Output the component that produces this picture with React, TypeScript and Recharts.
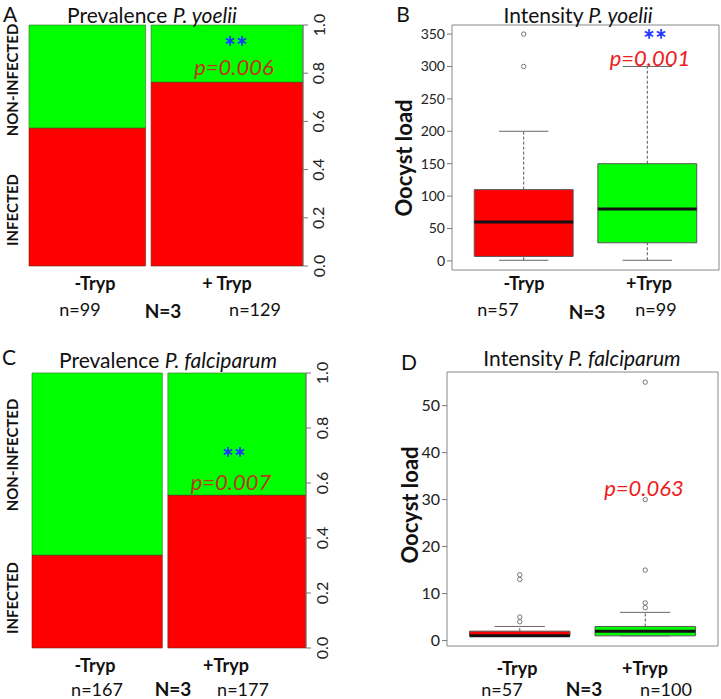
import React from 'react';
import { ComposedChart, XAxis, YAxis, ReferenceArea, ReferenceLine, Scatter } from 'recharts';

const FONT = 'Lato, "Open Sans", "DejaVu Sans", sans-serif';

// ---------- Prevalence (mosaic) data ----------
const prevGroups = ['-Tryp', '+Tryp'];
const yoeliiPrevN = [99, 129];
const yoeliiInfected = [0.573, 0.763];
const falcPrevN = [167, 177];
const falcInfected = [0.338, 0.556];
const propTicks = [0, 0.2, 0.4, 0.6, 0.8, 1.0];

// ---------- Intensity P. yoelii (box plot) ----------
const boxGroups = ['-Tryp', '+Tryp'];
const yoeliiLow = [1, 1];
const yoeliiQ1 = [7, 28];
const yoeliiMed = [60, 80];
const yoeliiQ3 = [110, 150];
const yoeliiHigh = [200, 300];
const yoeliiOutMinus = [300, 350];
const yoeliiOutPlus: number[] = [];
const yoeliiTicks = [0, 50, 100, 150, 200, 250, 300, 350];

// ---------- Intensity P. falciparum (box plot) ----------
const falcLow = [1, 1];
const falcQ1 = [1, 1];
const falcMed = [1, 2];
const falcQ3 = [2, 3];
const falcHigh = [3, 6];
const falcOutMinus = [4, 5, 13, 14];
const falcOutPlus = [7, 8, 15, 30, 55];
const falcTicks = [0, 10, 20, 30, 40, 50];

const RED = '#ff0000';
const GREEN = '#00ff00';

const RotTick = (props: any) => {
  const { x, y, payload } = props;
  const cx = x + 8;
  return (
    <text
      x={cx}
      y={y}
      transform={`rotate(-90 ${cx} ${y})`}
      textAnchor="middle"
      dominantBaseline="central"
      fontSize={16}
      fill="#222"
      fontFamily={FONT}
    >
      {Number(payload.value).toFixed(1)}
    </text>
  );
};

function Mosaic(props: {
  n: number[];
  inf: number[];
  left: number;
  top: number;
  width: number;
  height: number;
  margin: any;
  axisWidth: number;
}) {
  const { n, inf, left, top, width, height, margin, axisWidth } = props;
  const gap = 0.02;
  const total = n[0] + n[1];
  const w0 = ((1 - gap) * n[0]) / total;
  const spans = [
    [0, w0],
    [w0 + gap, 1],
  ];
  const areas: any[] = [];
  spans.forEach(([a, b], i) => {
    areas.push(
      <ReferenceArea key={`r${i}`} x1={a} x2={b} y1={0} y2={inf[i]} fill={RED} fillOpacity={1} stroke="#6a2a1a" strokeWidth={0.6} ifOverflow="visible" />
    );
    areas.push(
      <ReferenceArea key={`g${i}`} x1={a} x2={b} y1={inf[i]} y2={1} fill={GREEN} fillOpacity={1} stroke="#3a6a2a" strokeWidth={0.6} ifOverflow="visible" />
    );
  });
  return (
    <div style={{ position: 'absolute', left, top }}>
      <ComposedChart width={width} height={height} margin={margin} data={[{ x: 0, y: 0 }, { x: 1, y: 1 }]}>
        <XAxis type="number" dataKey="x" domain={[0, 1]} hide allowDataOverflow />
        <YAxis
          orientation="right"
          type="number"
          domain={[0, 1]}
          ticks={propTicks}
          interval={0}
          width={axisWidth}
          tickSize={5}
          tick={<RotTick />}
          stroke="#777"
          allowDataOverflow
        />
        {areas}
      </ComposedChart>
    </div>
  );
}

function BoxPanel(props: {
  low: number[];
  q1: number[];
  med: number[];
  q3: number[];
  high: number[];
  outMinus: number[];
  outPlus: number[];
  domain: number[];
  ticks: number[];
  left: number;
  top: number;
  width: number;
  height: number;
  margin: any;
  tickFont: number;
}) {
  const { low, q1, med, q3, high, outMinus, outPlus, domain, ticks, left, top, width, height, margin, tickFont } = props;
  const xDom = [0.42, 2.58];
  const els: any[] = [];
  const fills = [RED, GREEN];
  boxGroups.forEach((_, i) => {
    const p = i + 1;
    if (high[i] > q3[i]) {
      els.push(<ReferenceLine key={`wu${i}`} segment={[{ x: p, y: q3[i] }, { x: p, y: high[i] }]} stroke="#555" strokeDasharray="3 2" strokeWidth={1} ifOverflow="visible" />);
    }
    if (low[i] < q1[i]) {
      els.push(<ReferenceLine key={`wl${i}`} segment={[{ x: p, y: low[i] }, { x: p, y: q1[i] }]} stroke="#555" strokeDasharray="3 2" strokeWidth={1} ifOverflow="visible" />);
    }
    els.push(<ReferenceLine key={`cu${i}`} segment={[{ x: p - 0.2, y: high[i] }, { x: p + 0.2, y: high[i] }]} stroke="#666" strokeWidth={1} ifOverflow="visible" />);
    els.push(<ReferenceLine key={`cl${i}`} segment={[{ x: p - 0.2, y: low[i] }, { x: p + 0.2, y: low[i] }]} stroke="#666" strokeWidth={1} ifOverflow="visible" />);
    els.push(<ReferenceArea key={`b${i}`} x1={p - 0.4} x2={p + 0.4} y1={q1[i]} y2={q3[i]} fill={fills[i]} fillOpacity={1} stroke="#555" strokeWidth={1} ifOverflow="visible" />);
    els.push(<ReferenceLine key={`m${i}`} segment={[{ x: p - 0.4, y: med[i] }, { x: p + 0.4, y: med[i] }]} stroke="#111" strokeWidth={3} ifOverflow="visible" />);
  });
  const outliers = [
    ...outMinus.map((v) => ({ x: 1, y: v })),
    ...outPlus.map((v) => ({ x: 2, y: v })),
  ];
  return (
    <div style={{ position: 'absolute', left, top }}>
      <ComposedChart width={width} height={height} margin={margin} data={outliers}>
        <XAxis
          type="number"
          dataKey="x"
          domain={xDom}
          ticks={[1, 2]}
          interval={0}
          tick={false}
          tickSize={5}
          axisLine={false}
          tickLine={{ stroke: '#777' }}
          height={8}
          allowDataOverflow
        />
        <YAxis
          type="number"
          dataKey="y"
          domain={domain}
          ticks={ticks}
          interval={0}
          width={50}
          tickSize={5}
          axisLine={false}
          tickLine={{ stroke: '#777' }}
          tick={{ fontSize: tickFont, fill: '#222', fontFamily: FONT }}
          allowDataOverflow
        />
        <ReferenceArea x1={xDom[0]} x2={xDom[1]} y1={domain[0]} y2={domain[1]} fill="none" stroke="#888" strokeWidth={1} ifOverflow="visible" />
        {els}
        <Scatter
          data={outliers}
          dataKey="y"
          isAnimationActive={false}
          shape={(p: any) => <circle cx={p.cx} cy={p.cy} r={2.2} fill="none" stroke="#666" strokeWidth={0.9} />}
        />
      </ComposedChart>
    </div>
  );
}

function T(props: {
  x: number;
  y: number;
  size: number;
  bold?: boolean;
  italic?: boolean;
  color?: string;
  rotate?: boolean;
  lh?: number;
  children: any;
}) {
  const { x, y, size, bold, italic, color, rotate, lh, children } = props;
  return (
    <div
      style={{
        position: 'absolute',
        left: x,
        top: y,
        transform: `translate(-50%, -50%)${rotate ? ' rotate(-90deg)' : ''}`,
        fontFamily: FONT,
        fontSize: size,
        fontWeight: bold ? 700 : 400,
        fontStyle: italic ? 'italic' : 'normal',
        color: color || '#111',
        whiteSpace: 'nowrap',
        lineHeight: lh ?? 1,
      }}
    >
      {children}
    </div>
  );
}

export default function App() {
  const PCOL = '#c0341a';
  const RCOL = '#ee1c1c';
  const BLUE = '#1b35ff';
  return (
    <div style={{ position: 'absolute', left: 0, top: 0, width: 721, height: 699, background: '#fff', overflow: 'hidden' }}>
      {/* Panel A */}
      <Mosaic n={yoeliiPrevN} inf={yoeliiInfected} left={0} top={0} width={360} height={340} margin={{ top: 25, left: 29, right: 0, bottom: 74 }} axisWidth={57} />
      <T x={10} y={13} size={21}>A</T>
      <T x={152} y={14} size={21}>Prevalence <i>P. yoelii</i></T>
      <T x={12} y={80} size={15} bold rotate>NON-INFECTED</T>
      <T x={12} y={210} size={15} bold rotate>INFECTED</T>
      <T x={236} y={47} size={28} bold color={BLUE} lh={0.4}>**</T>
      <T x={234} y={67} size={22} italic color={PCOL}>p=0.006</T>
      <T x={95} y={283} size={18} bold>{prevGroups[0]}</T>
      <T x={227} y={283} size={18} bold>+ Tryp</T>
      <T x={80} y={309} size={18}>n={yoeliiPrevN[0]}</T>
      <T x={163} y={310} size={19} bold>N=3</T>
      <T x={255} y={309} size={18}>n={yoeliiPrevN[1]}</T>

      {/* Panel B */}
      <BoxPanel
        low={yoeliiLow} q1={yoeliiQ1} med={yoeliiMed} q3={yoeliiQ3} high={yoeliiHigh}
        outMinus={yoeliiOutMinus} outPlus={yoeliiOutPlus}
        domain={[-14, 364]} ticks={yoeliiTicks}
        left={360} top={0} width={361} height={340}
        margin={{ top: 25, left: 42, right: 2, bottom: 62 }} tickFont={14}
      />
      <T x={403} y={13} size={21}>B</T>
      <T x={578} y={14} size={21}>Intensity <i>P. yoelii</i></T>
      <T x={404} y={158} size={22} bold rotate>Oocyst load</T>
      <T x={655} y={40} size={28} bold color={BLUE} lh={0.4}>**</T>
      <T x={650} y={58} size={22} italic color={RCOL}>p=0.001</T>
      <T x={524} y={283} size={18} bold>{boxGroups[0]}</T>
      <T x={649} y={283} size={18} bold>{boxGroups[1]}</T>
      <T x={498} y={309} size={18}>n=57</T>
      <T x={587} y={311} size={19} bold>N=3</T>
      <T x={656} y={309} size={18}>n=99</T>

      {/* Panel C */}
      <Mosaic n={falcPrevN} inf={falcInfected} left={0} top={340} width={360} height={359} margin={{ top: 33, left: 32, right: 0, bottom: 51 }} axisWidth={54} />
      <T x={9} y={356} size={21}>C</T>
      <T x={168} y={359} size={21}>Prevalence <i>P. falciparum</i></T>
      <T x={12} y={455} size={15} bold rotate>NON-INFECTED</T>
      <T x={12} y={598} size={15} bold rotate>INFECTED</T>
      <T x={234} y={458} size={28} bold color={BLUE} lh={0.4}>**</T>
      <T x={231} y={482} size={22} italic color={PCOL}>p=0.007</T>
      <T x={95} y={665} size={18} bold>{prevGroups[0]}</T>
      <T x={226} y={665} size={18} bold>{prevGroups[1]}</T>
      <T x={97} y={689} size={18}>n={falcPrevN[0]}</T>
      <T x={173} y={688} size={19} bold>N=3</T>
      <T x={243} y={689} size={18}>n={falcPrevN[1]}</T>

      {/* Panel D */}
      <BoxPanel
        low={falcLow} q1={falcQ1} med={falcMed} q3={falcQ3} high={falcHigh}
        outMinus={falcOutMinus} outPlus={falcOutPlus}
        domain={[-1.16, 57.16]} ticks={falcTicks}
        left={360} top={340} width={361} height={359}
        margin={{ top: 32, left: 37, right: 3, bottom: 45 }} tickFont={16}
      />
      <T x={409} y={361} size={21}>D</T>
      <T x={582} y={357} size={21}>Intensity <i>P. falciparum</i></T>
      <T x={410} y={505} size={22} bold rotate>Oocyst load</T>
      <T x={644} y={488} size={22} italic color={RCOL}>p=0.063</T>
      <T x={517} y={668} size={18} bold>{boxGroups[0]}</T>
      <T x={645} y={668} size={18} bold>{boxGroups[1]}</T>
      <T x={502} y={689} size={18}>n=57</T>
      <T x={584} y={688} size={19} bold>N=3</T>
      <T x={666} y={689} size={18}>n=100</T>
    </div>
  );
}
